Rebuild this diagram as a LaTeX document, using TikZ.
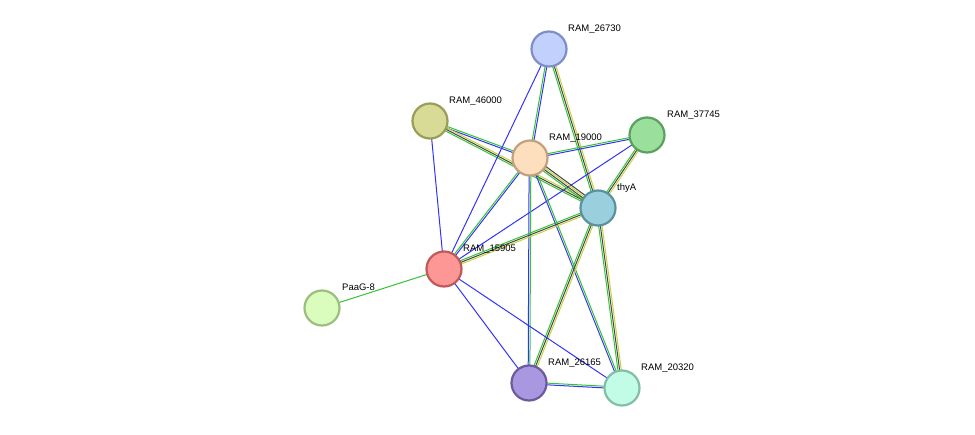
\documentclass[tikz,border=0pt]{standalone}
\usepackage{fontspec}
\setmainfont{Liberation Sans}
\usetikzlibrary{calc,backgrounds}
\definecolor{eg}{HTML}{33C433}
\definecolor{eb}{HTML}{3333F5}
\definecolor{ek}{HTML}{444444}
\definecolor{ey}{HTML}{C8D23C}
\definecolor{f0}{HTML}{C2D0FD}\definecolor{s0}{HTML}{7D8FC6}
\definecolor{f1}{HTML}{D8DB95}\definecolor{s1}{HTML}{9A9D58}
\definecolor{f2}{HTML}{9ADF9C}\definecolor{s2}{HTML}{5BA05E}
\definecolor{f3}{HTML}{FDDFBE}\definecolor{s3}{HTML}{C3A07F}
\definecolor{f4}{HTML}{9AD0DE}\definecolor{s4}{HTML}{5B92A0}
\definecolor{f5}{HTML}{FC9796}\definecolor{s5}{HTML}{C0595A}
\definecolor{f6}{HTML}{DAFDBE}\definecolor{s6}{HTML}{9BBF7F}
\definecolor{f7}{HTML}{A998E0}\definecolor{s7}{HTML}{6C5AA0}
\definecolor{f8}{HTML}{C2FCE6}\definecolor{s8}{HTML}{83BEA7}
\newcommand\bnd[4]{%
  \foreach \c [count=\i] in {#4} {%
    \pgfmathsetmacro\o{(\i-(#3+1)/2)*1.7}%
    \draw[edge,\c] ($(#1)!\o pt!90:(#2)$) -- ($(#2)!\o pt!-90:(#1)$);
  }}
\begin{document}
\begin{tikzpicture}[x=1pt,y=-1pt,
  prot/.style={circle,minimum size=35pt,inner sep=0pt,line width=2.2pt},
  lab/.style={anchor=base west,font=\fontsize{9.5}{10}\selectfont,inner sep=1pt},
  edge/.style={line width=1pt}]
\useasboundingbox (0,0) rectangle (975,434);
\node[prot,fill=f0,draw=s0] (a) at (549,49) {};
\node[prot,fill=f1,draw=s1] (b) at (430,121) {};
\node[prot,fill=f2,draw=s2] (c) at (647,135) {};
\node[prot,fill=f3,draw=s3] (d) at (530,158) {};
\node[prot,fill=f4,draw=s4] (t) at (598,208) {};
\node[prot,fill=f5,draw=s5] (r) at (444,269) {};
\node[prot,fill=f6,draw=s6] (p) at (322,308) {};
\node[prot,fill=f7,draw=s7] (u) at (529,383) {};
\node[prot,fill=f8,draw=s8] (v) at (622,388) {};
\begin{scope}[on background layer]
\bnd{b}{d}{2}{eb,eg}
\bnd{b}{t}{3}{eg,ek,ey}
\bnd{b}{r}{1}{eb}
\bnd{a}{r}{1}{eb}
\bnd{a}{d}{2}{eg,eb}
\bnd{a}{t}{3}{eg,ek,ey}
\bnd{c}{d}{2}{eg,eb}
\bnd{c}{t}{3}{eg,ek,ey}
\bnd{c}{r}{1}{eb}
\bnd{d}{t}{4}{eg,ek,ey,ek}
\bnd{d}{r}{2}{eg,eb}
\bnd{d}{u}{2}{eb,eg}
\bnd{d}{v}{2}{eb,eg}
\bnd{t}{r}{3}{eg,ek,ey}
\bnd{t}{u}{3}{eg,ek,ey}
\bnd{t}{v}{3}{eg,ek,ey}
\bnd{r}{p}{1}{eg}
\bnd{r}{u}{1}{eb}
\bnd{r}{v}{1}{eb}
\bnd{u}{v}{2}{eb,eg}
\end{scope}
\node[lab] (la) at (567,31) {RAM\_26730};
\node[lab] (lb) at (448,103) {RAM\_46000};
\node[lab] (lc) at (666,117) {RAM\_37745};
\node[lab] (ld) at (548,140) {RAM\_19000};
\node[lab] (lt) at (616,190) {thyA};
\node[lab] (lr) at (462,251) {RAM\_15905};
\node[lab] (lp) at (341,290) {PaaG-8};
\node[lab] (lu) at (547,365) {RAM\_26165};
\node[lab] (lv) at (640,370) {RAM\_20320};
\end{tikzpicture}
\end{document}
